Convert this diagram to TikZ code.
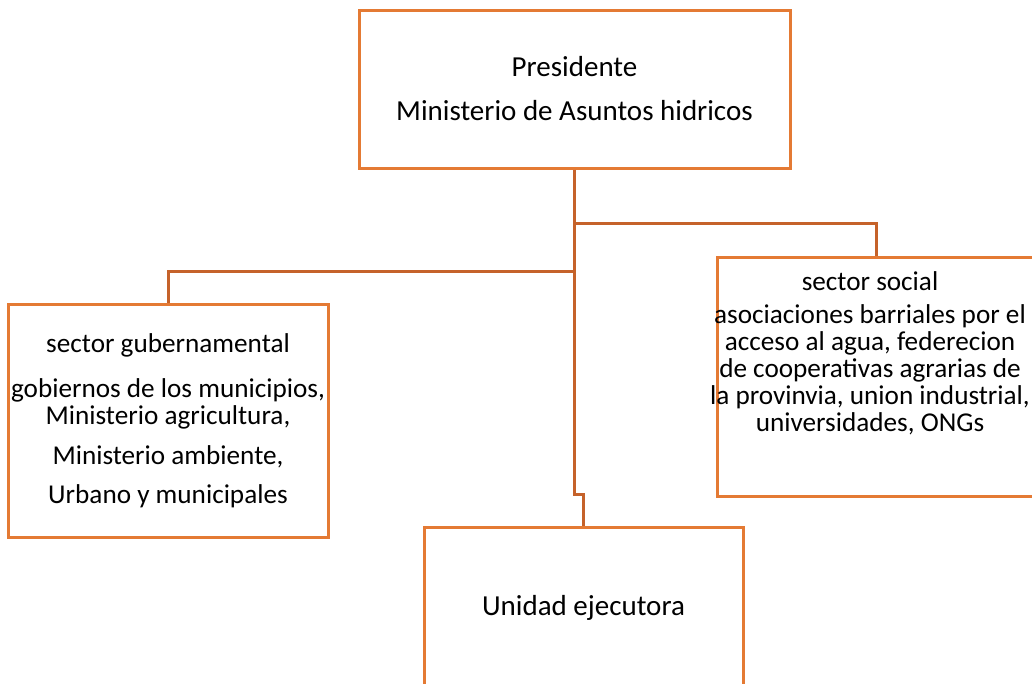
\documentclass[tikz,border=0pt]{standalone}
\usepackage{fontspec}
\setmainfont{Carlito}
\usetikzlibrary{positioning}
\definecolor{naranja}{HTML}{E47A34}
\definecolor{naranjaosc}{HTML}{C5622A}
\tikzset{
  caja/.style = {rectangle, draw=naranja, line width=3pt, align=center,
    inner sep=0pt, font=\fontsize{29}{35}\selectfont},% recuadro
  chico/.style = {font=\fontsize{27.2}{27}\selectfont},% texto de los sectores
  texto/.style = {align=center, inner sep=0pt},% texto suelto
  linea/.style = {draw=naranjaosc, line width=3pt}% conector
}

\begin{document}
\begin{tikzpicture}[x=1pt, y=-1pt]
    \useasboundingbox (0,0) rectangle (1032,683);
    \node [caja, minimum width=431pt, minimum height=158pt] (pres) at (574.5,89)
      {Presidente\\[9pt]Ministerio de Asuntos hidricos};
    \node [caja, chico, minimum width=320pt, minimum height=233pt] (gob) at (168,421)
      {sector gubernamental\\[18pt]gobiernos de los municipios,\\Ministerio agricultura,\\[13pt]
       Ministerio ambiente,\\[12pt]Urbano y municipales};
    \node [caja, minimum width=318pt, minimum height=239pt] (soc) at (876,376.5) {};
    \node [texto, chico, anchor=north] (soctxt) at (870,271)
      {sector social\\[6pt]asociaciones barriales por el\\acceso al agua, federecion\\
       de cooperativas agrarias de\\la provinvia, union industrial,\\universidades, ONGs};
    \node [caja, minimum width=319pt, minimum height=161pt] (uni) at (583.5,607.5)
      {Unidad ejecutora};
    \coordinate (jsoc) at (pres.south |- 0,223);
    \coordinate (jgob) at (pres.south |- 0,271);
    \draw [linea] (pres.south) -- ++(0,325) -| (uni.north);
    \draw [linea] (jsoc) -| (soc.north);
    \draw [linea] (jgob) -| (gob.north);
\end{tikzpicture}
\end{document}
